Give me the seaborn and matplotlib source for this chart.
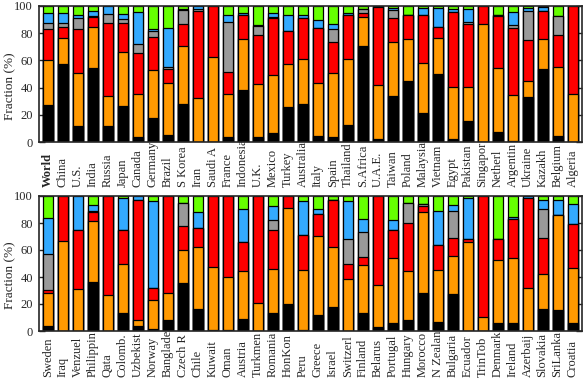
import numpy as np
import pandas as pd
import matplotlib
matplotlib.use("Agg")
import matplotlib.pyplot as plt
import seaborn as sns

# Country labels for the two panels
top_countries = ["World", "China", "U.S.", "India", "Russia", "Japan", "Canada", "Germany",
                 "Brazil", "S Korea", "Iran", "Saudi A", "France", "Indonesia", "U.K.", "Mexico",
                 "Turkey", "Australia", "Italy", "Spain", "Thailand", "S.Africa", "U.A.E.", "Taiwan",
                 "Poland", "Malaysia", "Vietnam", "Egypt", "Pakistan", "Singapor", "Netherl",
                 "Argentin", "Ukraine", "Kazakh", "Belgium", "Algeria"]
bottom_countries = ["Sweden", "Iraq", "Venzuel", "Philippin", "Qata", "Colomb.", "Uzbekist",
                    "Norway", "Banglades", "Czech R", "Chile", "Kuwait", "Oman", "Austria",
                    "Turkmen", "Romania", "HonKon", "Peru", "Greece", "Israel", "Switzerl",
                    "Finland", "Belarus", "Portugal", "Hungary", "Morocco", "N Zealan", "Bulgaria",
                    "Ecuador", "TrinTob", "Denmark", "Ireland", "Azerbaij", "Slovakia", "SriLanka",
                    "Croatia"]

# Segment shares (%) per layer, bottom to top, one value per country
top_black = [27.4, 57.5, 12.0, 54.5, 12.0, 26.7, 3.9, 17.8, 5.4, 27.9, 0, 0, 3.4, 38.4, 3.4, 6.8,
             25.9, 28.1, 4.6, 3.9, 12.7, 70.7, 2.4, 34.0, 45.0, 21.5, 50.1, 2.4, 15.6, 0, 7.6,
             0.7, 32.8, 53.8, 4.6, 0]
top_orange = [32.7, 19.3, 38.6, 29.9, 21.7, 39.3, 31.3, 34.8, 37.9, 42.5, 32.0, 62.3, 31.8, 37.2,
              39.1, 42.1, 31.3, 32.8, 38.7, 46.7, 48.2, 21.0, 39.4, 39.3, 30.6, 36.5, 26.2, 37.7,
              24.5, 86.6, 46.7, 33.8, 11.9, 21.8, 50.4, 35.2]
top_red = [23.3, 8.0, 32.3, 7.3, 53.6, 21.3, 30.6, 24.4, 10.5, 16.2, 64.6, 37.7, 16.1, 17.6, 36.0,
           42.1, 24.2, 30.1, 40.3, 22.7, 32.3, 2.9, 57.2, 17.7, 17.6, 35.2, 8.1, 55.3, 46.5, 13.4,
           38.4, 49.6, 30.1, 20.7, 23.7, 64.8]
top_gray = [4.4, 2.5, 8.1, 1.0, 6.6, 3.2, 6.1, 4.9, 1.5, 10.4, 1.0, 0, 36.7, 0.2, 6.8, 1.2, 0.3,
            0.4, 0.3, 9.6, 0.2, 3.2, 1.0, 6.0, 0, 0, 0, 0, 1.9, 0, 0.7, 1.9, 21.5, 0, 14.0, 0]
top_blue = [6.8, 7.3, 2.4, 3.6, 6.1, 3.4, 23.9, 1.5, 28.3, 0.8, 2.4, 0, 5.4, 1.7, 0.5, 2.9, 11.5,
            2.0, 5.8, 3.7, 1.2, 0, 0, 1.3, 0, 5.1, 13.9, 2.4, 9.3, 0, 0, 9.4, 2.0, 3.2, 0, 0]
top_green = [5.4, 5.4, 6.6, 3.7, 0, 6.1, 4.2, 16.6, 16.4, 2.2, 0, 0, 6.6, 4.9, 14.2, 4.9, 6.8,
             6.6, 10.3, 13.4, 5.4, 2.2, 0, 1.7, 6.8, 1.7, 1.7, 2.2, 2.2, 0, 6.6, 4.6, 1.7, 0.5,
             7.3, 0]

bottom_black = [3.5, 0, 0, 36.0, 0, 13.3, 3.5, 1.2, 7.9, 35.6, 16.5, 0.5, 0.5, 8.6, 0, 13.6, 20.2,
                1.0, 11.6, 18.0, 0, 13.1, 3.2, 5.7, 7.9, 28.4, 6.4, 27.7, 0, 0, 5.7, 5.7, 0, 16.5,
                15.8, 5.7]
bottom_orange = [24.9, 66.9, 31.4, 45.2, 26.4, 36.6, 4.9, 22.0, 20.5, 24.6, 45.7, 46.9, 39.5,
                 35.8, 20.7, 32.6, 70.9, 44.2, 58.8, 44.2, 38.3, 36.0, 30.6, 48.6, 36.5, 59.7,
                 39.0, 27.9, 65.9, 10.4, 47.1, 48.6, 31.9, 26.0, 70.4, 41.0]
bottom_red = [2.2, 33.1, 43.2, 6.9, 73.6, 25.2, 88.4, 8.7, 71.6, 17.6, 14.1, 52.6, 60.0, 21.5,
              79.3, 28.4, 8.9, 26.2, 16.5, 34.8, 11.1, 6.0, 66.2, 20.5, 35.6, 4.5, 18.6, 13.3,
              2.5, 89.6, 15.6, 28.9, 66.9, 26.6, 0, 32.8]
bottom_gray = [26.7, 0, 0, 0.5, 0, 0, 0, 0, 0, 17.0, 0, 0, 0, 0, 0, 7.6, 0, 0, 0, 0, 19.0, 18.2,
               0, 0, 15.1, 1.2, 0, 20.2, 0, 0, 0, 0, 0, 21.5, 0, 0]
bottom_blue = [26.7, 0, 25.4, 4.5, 0, 23.4, 3.2, 64.1, 0, 0, 11.8, 0, 0, 24.7, 0, 10.4, 0, 24.6,
               3.7, 0, 28.1, 9.9, 0, 7.7, 0, 0, 25.1, 4.5, 30.4, 0, 0, 1.2, 1.2, 6.7, 11.1, 14.8]
bottom_green = [16.0, 0, 0, 6.9, 0, 1.5, 0, 4.0, 0, 5.2, 11.9, 0, 0, 9.4, 0, 7.4, 0, 4.0, 9.4, 3.0,
                3.5, 16.8, 0, 17.5, 4.9, 6.2, 10.9, 6.4, 1.2, 0, 31.6, 15.6, 0, 2.7, 2.7, 5.7]

layer_colors = ["#000000", "#FF9900", "#FF0000", "#999999", "#33AAFF", "#66FF00"]

sns.set_style("ticks")
plt.rcParams["font.family"] = ["Liberation Serif", "DejaVu Serif"]

fig = plt.figure(figsize=(5.88, 3.80), dpi=100)
ax_top = fig.add_axes([38.5 / 588, 1 - 142 / 380, 543.5 / 588, 136 / 380])
ax_bot = fig.add_axes([38.5 / 588, 1 - 331 / 380, 543.5 / 588, 135 / 380])


def stacked(ax, countries, layers, label_pad):
    df = pd.DataFrame(dict(zip(range(len(layers)), layers)), index=countries)
    cum = df.cumsum(axis=1)
    # draw cumulative totals from the top layer down so each bar covers the one below
    for i in reversed(range(len(layers))):
        sns.barplot(x=countries, y=cum[i].values, color=layer_colors[i], saturation=1,
                    edgecolor="black", linewidth=0.9, width=0.67, ax=ax)
    ax.set_xlim(-0.63, len(countries) - 0.37)
    ax.set_ylim(0, 100)
    ax.set_yticks([0, 20, 40, 60, 80, 100])
    ax.tick_params(axis="y", direction="in", length=4, width=1, labelsize=9,
                   right=True, left=True, pad=4)
    # labels start at a fixed line below the axis and read upward
    ax.tick_params(axis="x", length=0, labelsize=9, rotation=90, pad=label_pad)
    for lab in ax.get_xticklabels():
        lab.set_va("bottom")
    ax.set_ylabel("Fraction (%)", fontsize=9.5)
    ax.yaxis.set_label_coords(-0.04, 0.41)
    for s in ax.spines.values():
        s.set_linewidth(1.2)
        s.set_visible(True)


stacked(ax_top, top_countries, [top_black, top_orange, top_red, top_gray, top_blue, top_green],
        32.5)
stacked(ax_bot, bottom_countries, [bottom_black, bottom_orange, bottom_red, bottom_gray,
                                   bottom_blue, bottom_green], 33)
ax_top.get_xticklabels()[0].set_fontweight("bold")

fig.savefig("out.png", dpi=100)
